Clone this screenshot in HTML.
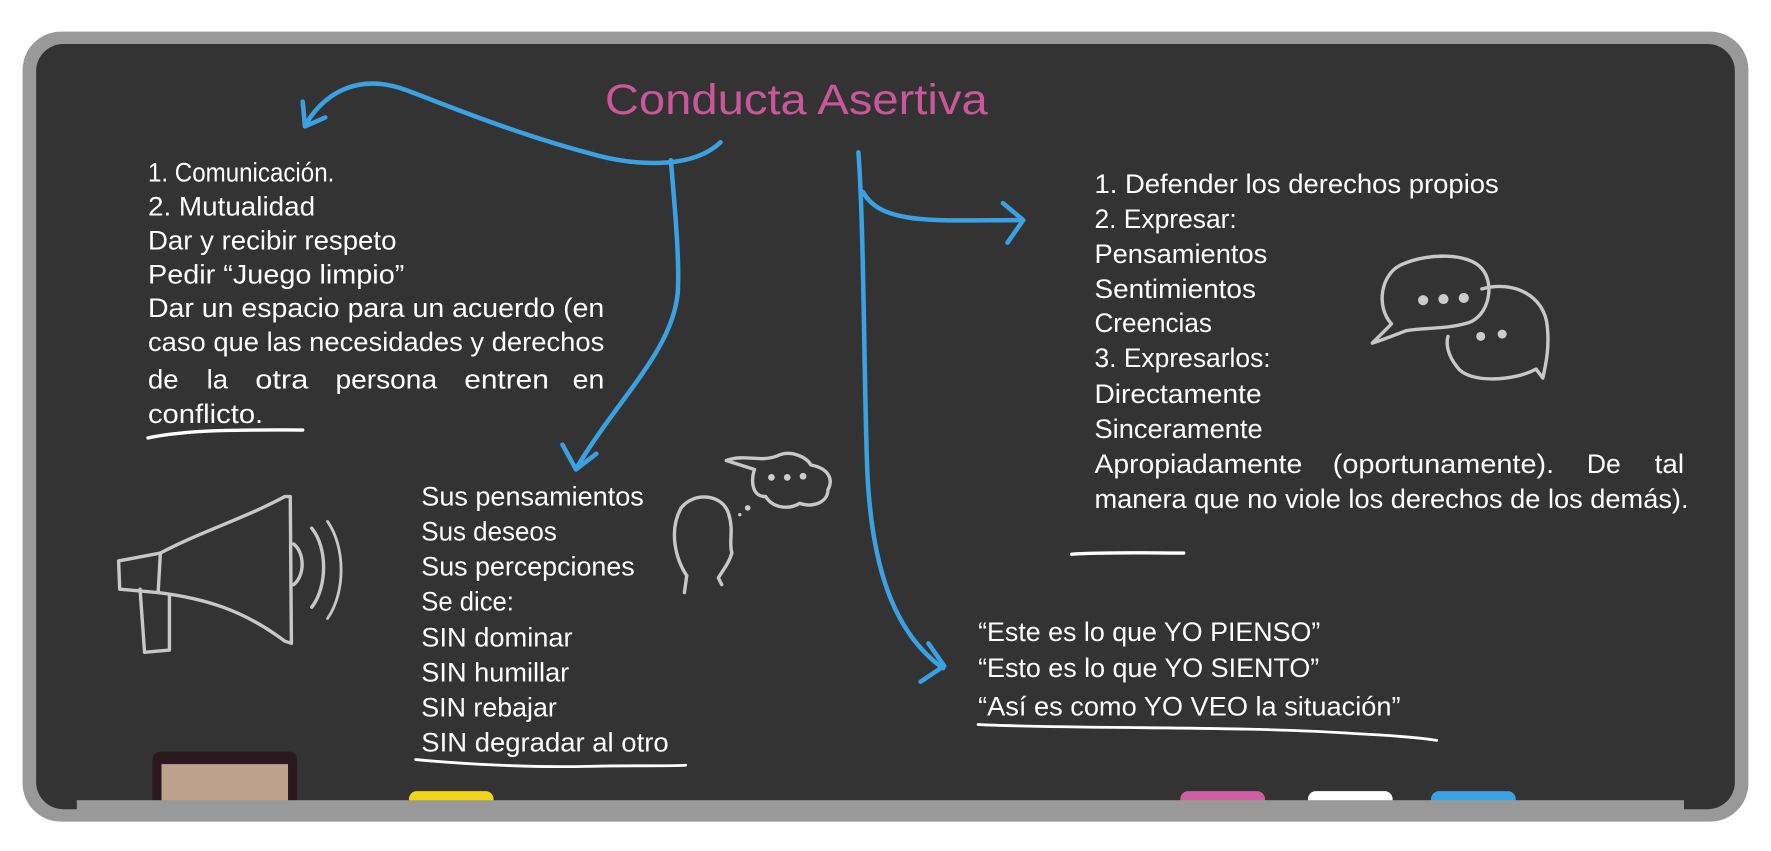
<!DOCTYPE html>
<html><head><meta charset="utf-8"><style>html,body{margin:0;padding:0;background:#fff;}svg{display:block}</style></head>
<body>
<svg width="1771" height="851" viewBox="0 0 1568 754" xmlns="http://www.w3.org/2000/svg" preserveAspectRatio="none">
<rect x="0" y="0" width="1568" height="754" fill="#fff"/>
<rect x="20" y="28" width="1528" height="700" rx="34" fill="#999"/>
<rect x="32" y="39" width="1504" height="678" rx="24" fill="#333"/>
<!-- eraser & chalk -->
<rect x="135" y="666" width="128" height="50" rx="7" fill="#2a1a1f"/>
<rect x="143" y="677" width="112" height="40" fill="#bfa08c"/>
<rect x="362" y="701" width="75" height="14" rx="7" fill="#f2d519"/>
<rect x="1045" y="701" width="75" height="14" rx="7" fill="#cd5ea3"/>
<rect x="1158" y="701" width="75" height="14" rx="7" fill="#fff"/>
<rect x="1267" y="701" width="75" height="14" rx="7" fill="#3aa1e2"/>
<rect x="68" y="709" width="1423" height="9" fill="#999"/>
<text x="705" y="101" text-anchor="middle" font-family="Liberation Sans, sans-serif" font-size="38" fill="#c9579a" textLength="339" lengthAdjust="spacingAndGlyphs">Conducta Asertiva</text>
<!-- arrows -->
<g fill="none" stroke="#3aa1e2" stroke-width="4" stroke-linecap="round" stroke-linejoin="round">
<path d="M638 126 C615 148 570 148 530 138 C460 120 400 95 360 80 C320 65 290 80 272 108"/>
<path d="M268 90 L270 112 L288 104"/>
<path d="M594 142 C597 180 602 230 600 260 C595 310 550 350 512 412"/>
<path d="M498 394 L510 416 L528 402"/>
<path d="M760 135 C765 200 765 350 768 420 C772 500 790 560 835 592"/>
<path d="M822 570 L836 590 L815 604"/>
<path d="M764 170 C780 200 830 195 905 195"/>
<path d="M888 180 L906 195 L892 215"/>
</g>
<!-- text -->
<g font-family="Liberation Sans, sans-serif" font-size="24" fill="#fff">
<text x="131" y="161" textLength="165" lengthAdjust="spacingAndGlyphs">1. Comunicación.</text>
<text x="131" y="191" textLength="148" lengthAdjust="spacingAndGlyphs">2. Mutualidad</text>
<text x="131" y="221" textLength="220" lengthAdjust="spacingAndGlyphs">Dar y recibir respeto</text>
<text x="131" y="251" textLength="227" lengthAdjust="spacingAndGlyphs">Pedir “Juego limpio”</text>
<text x="131" y="281" textLength="404" lengthAdjust="spacingAndGlyphs">Dar un espacio para un acuerdo (en</text>
<text x="131" y="311" textLength="404" lengthAdjust="spacingAndGlyphs">caso que las necesidades y derechos</text>
<text x="131" y="344" textLength="27" lengthAdjust="spacingAndGlyphs">de</text><text x="183" y="344" textLength="19" lengthAdjust="spacingAndGlyphs">la</text><text x="226" y="344" textLength="47" lengthAdjust="spacingAndGlyphs">otra</text><text x="297" y="344" textLength="90" lengthAdjust="spacingAndGlyphs">persona</text><text x="411" y="344" textLength="75" lengthAdjust="spacingAndGlyphs">entren</text><text x="507" y="344" textLength="28" lengthAdjust="spacingAndGlyphs">en</text>
<text x="131" y="375" textLength="102" lengthAdjust="spacingAndGlyphs">conflicto.</text>

<text x="373" y="448" textLength="197" lengthAdjust="spacingAndGlyphs">Sus pensamientos</text>
<text x="373" y="479" textLength="120" lengthAdjust="spacingAndGlyphs">Sus deseos</text>
<text x="373" y="510" textLength="189" lengthAdjust="spacingAndGlyphs">Sus percepciones</text>
<text x="373" y="541" textLength="82" lengthAdjust="spacingAndGlyphs">Se dice:</text>
<text x="373" y="573" textLength="134" lengthAdjust="spacingAndGlyphs">SIN dominar</text>
<text x="373" y="604" textLength="131" lengthAdjust="spacingAndGlyphs">SIN humillar</text>
<text x="373" y="635" textLength="120" lengthAdjust="spacingAndGlyphs">SIN rebajar</text>
<text x="373" y="666" textLength="219" lengthAdjust="spacingAndGlyphs">SIN degradar al otro</text>

<text x="969" y="171" textLength="358" lengthAdjust="spacingAndGlyphs">1. Defender los derechos propios</text>
<text x="969" y="202" textLength="126" lengthAdjust="spacingAndGlyphs">2. Expresar:</text>
<text x="969" y="233" textLength="153" lengthAdjust="spacingAndGlyphs">Pensamientos</text>
<text x="969" y="264" textLength="143" lengthAdjust="spacingAndGlyphs">Sentimientos</text>
<text x="969" y="294" textLength="104" lengthAdjust="spacingAndGlyphs">Creencias</text>
<text x="969" y="325" textLength="156" lengthAdjust="spacingAndGlyphs">3. Expresarlos:</text>
<text x="969" y="357" textLength="148" lengthAdjust="spacingAndGlyphs">Directamente</text>
<text x="969" y="388" textLength="149" lengthAdjust="spacingAndGlyphs">Sinceramente</text>
<text x="969" y="419" textLength="184" lengthAdjust="spacingAndGlyphs">Apropiadamente</text><text x="1180" y="419" textLength="196" lengthAdjust="spacingAndGlyphs">(oportunamente).</text><text x="1405" y="419" textLength="30" lengthAdjust="spacingAndGlyphs">De</text><text x="1465" y="419" textLength="26" lengthAdjust="spacingAndGlyphs">tal</text>
<text x="969" y="450" textLength="526" lengthAdjust="spacingAndGlyphs">manera que no viole los derechos de los demás).</text>

<text x="866" y="568" textLength="303" lengthAdjust="spacingAndGlyphs">“Este es lo que YO PIENSO”</text>
<text x="866" y="600" textLength="302" lengthAdjust="spacingAndGlyphs">“Esto es lo que YO SIENTO”</text>
<text x="866" y="634" textLength="374" lengthAdjust="spacingAndGlyphs">“Así es como YO VEO la situación”</text>
</g>
<!-- chalk underlines -->
<g fill="none" stroke="#fff" stroke-linecap="round">
<path d="M131 388 C170 380 220 381 268 381" stroke-width="3"/>
<path d="M368 673 C420 678 480 680 520 679 C560 678 590 679 607 678" stroke-width="2.5"/>
<path d="M949 491 C980 489 1020 490 1048 490" stroke-width="3"/>
<path d="M866 642 C950 646 1100 643 1200 650 C1240 652 1260 654 1272 656" stroke-width="2.5"/>
</g>
<!-- icons -->
<g fill="none" stroke="#c8c8c8" stroke-width="3" stroke-linecap="round" stroke-linejoin="round">
<path d="M1232 287 C1218 272 1222 242 1242 234 C1265 224 1300 224 1312 238 C1324 252 1318 280 1300 286 C1280 292 1262 290 1245 293 C1232 298 1222 302 1215 304 Z"/>
<path d="M1312 256 C1340 248 1368 262 1370 290 C1372 310 1368 325 1366 335 L1360 327 C1340 338 1300 340 1290 325 C1282 315 1280 305 1282 298"/>
<path d="M643 408 C660 402 672 410 688 404 C700 398 714 405 718 412 C734 415 738 425 733 434 C733 445 720 450 708 446 C698 452 684 450 678 440 C665 440 665 425 668 416 Z"/>
<path d="M608 510 C598 495 592 470 603 450 C615 435 640 438 645 455 C650 470 645 480 648 490 C645 500 640 505 636 512 L639 518"/>
<path d="M608 510 L606 525"/>
<path d="M105 497 L142 490 C180 470 215 460 252 440 L257 440 L258 570 L252 568 C215 540 180 530 140 525 L106 522 Z"/>
<path d="M142 490 L140 525"/>
<path d="M124 522 L128 578 L150 576 L150 528"/>
<path d="M260 482 C270 490 270 510 260 518"/>
<path d="M276 468 C290 485 290 520 276 538"/>
<path d="M290 462 C306 485 306 525 290 548" stroke-width="2.5"/>
</g>
<g fill="#ccc">
<circle cx="1260" cy="266" r="4.5"/><circle cx="1278" cy="265" r="4.5"/><circle cx="1296" cy="264" r="4.5"/>
<circle cx="1311" cy="298" r="4"/><circle cx="1330" cy="296" r="4"/>
<circle cx="683" cy="423" r="3"/><circle cx="697" cy="423" r="3"/><circle cx="711" cy="422" r="3"/>
<circle cx="662" cy="450" r="2.5"/><circle cx="655" cy="456" r="1.5"/>
</g>
</svg>
</body></html>
